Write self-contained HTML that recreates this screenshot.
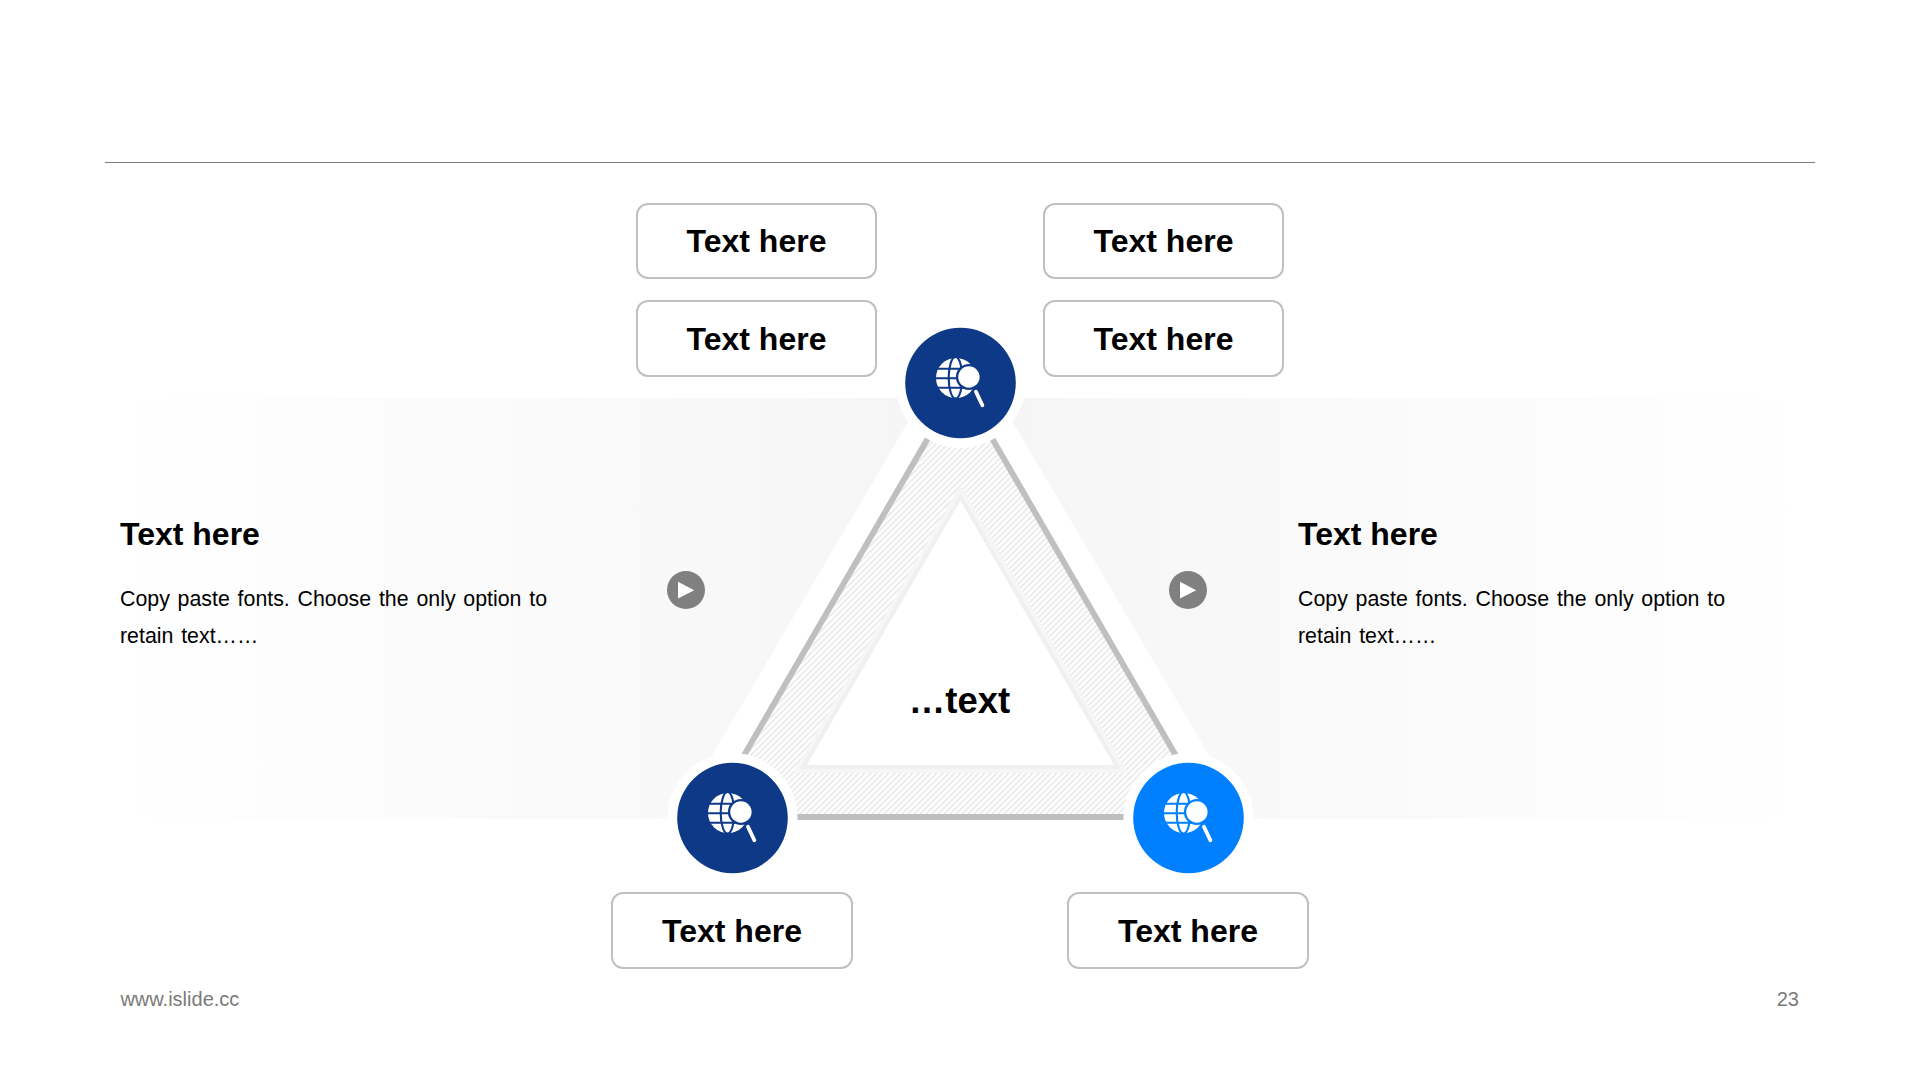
<!DOCTYPE html>
<html>
<head>
<meta charset="utf-8">
<title>Slide 23</title>
<style>
  html, body { margin: 0; padding: 0; }
  body { width: 1920px; height: 1080px; background: #ffffff; overflow: hidden; position: relative;
         font-family: "Liberation Sans", sans-serif; color: #000; }
  .abs { position: absolute; }
  .rule { left: 105px; top: 162px; width: 1710px; height: 1px; background: #7f7f7f; }
  .band { left: 120px; top: 398px; width: 1680px; height: 421px;
          background: linear-gradient(to right, #ffffff 0%, #f5f5f5 50%, #ffffff 100%); }
  .box { box-sizing: border-box; width: 241px; height: 76px; border: 2px solid #c0c0c0; border-radius: 12px;
         background: #fff; font-weight: bold; font-size: 32px; line-height: 73px; text-align: center; white-space: nowrap; }
  .h { font-weight: bold; font-size: 32px; line-height: 36px; white-space: nowrap; }
  .p { font-size: 21.33px; line-height: 37px; word-spacing: 1.9px; white-space: nowrap; }
  .foot { font-size: 20px; line-height: 24px; color: #7a7a7a; white-space: nowrap; }
  .center { font-weight: bold; font-size: 36.5px; line-height: 44px; white-space: nowrap; text-align: center; }
  svg { position: absolute; left: 0; top: 0; }
</style>
</head>
<body>
<div class="abs rule"></div>
<div class="abs band"></div>

<svg width="1920" height="1080" viewBox="0 0 1920 1080">
  <defs>
    <pattern id="hatch" width="6" height="6" patternUnits="userSpaceOnUse">
      <rect width="6" height="6" fill="#ffffff"/>
      <path d="M-1.5,1.5 L1.5,-1.5 M0,6 L6,0 M4.5,7.5 L7.5,4.5" stroke="#ededed" stroke-width="2.1"/>
    </pattern>
    <g id="icon">
      <!-- globe -->
      <circle cx="-4.5" cy="-5" r="20" fill="#ffffff"/>
      <g fill="none" stroke="currentColor" stroke-width="2.1">
        <ellipse cx="-5" cy="-5.2" rx="6.8" ry="20.8"/>
        <path d="M-26,-14.3 H16 M-26,-4.8 H16 M-26,4.7 H16"/>
      </g>
      <!-- magnifier -->
      <circle cx="8.4" cy="-6" r="13" fill="currentColor"/>
      <circle cx="8.4" cy="-6" r="10.7" fill="#ffffff"/>
      <path d="M15.4,8.6 L21.9,22.4" stroke="#ffffff" stroke-width="3.7" stroke-linecap="round" fill="none"/>
    </g>
  </defs>

  <!-- white halo triangle -->
  <polygon points="960.5,333 1271,861 650,861" fill="#ffffff"/>
  <!-- hatched triangle with gray outline -->
  <polygon points="960,383 1211.5,817 708.3,817" fill="url(#hatch)" stroke="#bfbfbf" stroke-width="5.9" stroke-linejoin="miter"/>
  <!-- inner triangle -->
  <polygon points="960.4,485 1127.9,773 792.9,773" fill="#f6f6f6"/>
  <polygon points="960.4,492.9 1121,769 799.8,769" fill="#f0f0f0"/>
  <polygon points="960.4,500.8 1114,765 806.8,765" fill="#ffffff"/>

  <!-- play buttons -->
  <g>
    <circle cx="686" cy="590" r="19" fill="#808080"/>
    <polygon points="678,581.8 694.2,590.2 678,598.6" fill="#ffffff"/>
    <circle cx="1188" cy="590" r="19" fill="#808080"/>
    <polygon points="1180,581.8 1196.2,590.2 1180,598.6" fill="#ffffff"/>
  </g>

  <!-- nodes -->
  <g>
    <circle cx="960.5" cy="383" r="65" fill="#ffffff"/>
    <circle cx="960.5" cy="383" r="55.3" fill="#0e3986"/>
    <use href="#icon" x="960.5" y="383" color="#0e3986"/>
  </g>
  <g>
    <circle cx="732.5" cy="818" r="65" fill="#ffffff"/>
    <circle cx="732.5" cy="818" r="55.3" fill="#0e3986"/>
    <use href="#icon" x="732.5" y="818" color="#0e3986"/>
  </g>
  <g>
    <circle cx="1188.5" cy="818" r="65" fill="#ffffff"/>
    <circle cx="1188.5" cy="818" r="55.3" fill="#0080ff"/>
    <use href="#icon" x="1188.5" y="818" color="#0080ff"/>
  </g>
</svg>

<div class="abs box" style="left:636px; top:203px;">Text here</div>
<div class="abs box" style="left:1043px; top:203px;">Text here</div>
<div class="abs box" style="left:636px; top:300px; height:77px; line-height:74px;">Text here</div>
<div class="abs box" style="left:1043px; top:300px; height:77px; line-height:74px;">Text here</div>
<div class="abs box" style="left:611px; top:892px; width:242px; height:77px; line-height:74px;">Text here</div>
<div class="abs box" style="left:1067px; top:892px; width:242px; height:77px; line-height:74px;">Text here</div>

<div class="abs h" style="left:120px; top:516px;">Text here</div>
<div class="abs p" style="left:120px; top:581px;">Copy paste fonts. Choose the only option to<br>retain text……</div>
<div class="abs h" style="left:1298px; top:516px;">Text here</div>
<div class="abs p" style="left:1298px; top:581px;">Copy paste fonts. Choose the only option to<br>retain text……</div>

<div class="abs center" style="left:859.5px; top:679px; width:200px;">…text</div>

<div class="abs foot" style="left:120.4px; top:987px;">www.islide.cc</div>
<div class="abs foot" style="left:1700px; top:987px; width:1099px; text-align:right; width:99px;">23</div>
</body>
</html>
